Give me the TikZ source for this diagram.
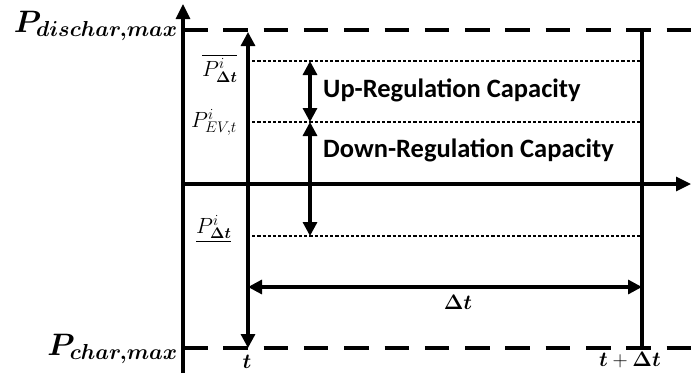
\RequirePackage{fix-cm}
\documentclass[tikz,border=0pt]{standalone}
\usepackage{amsmath}
\usepackage{bm}
\usepackage{fontspec}
\newfontfamily\capfont{Carlito}
\usetikzlibrary{arrows.meta}
\tikzset{
  axisline/.style={line width=3.2pt},
  bigtip/.style={-{Triangle[length=15pt,width=14pt]}},
  bothtips/.style={{Triangle[length=14pt,width=14pt]}-{Triangle[length=14pt,width=14pt]}},
  limitline/.style={line width=3.2pt, dash pattern=on 24.5pt off 15.8pt},
  levelline/.style={line width=2.2pt, dash pattern=on 3.2pt off 2pt},
  caplabel/.style={font=\capfont\bfseries\fontsize{26.5}{28}\selectfont, inner sep=0pt},
  biglabel/.style={font=\fontsize{31}{33}\selectfont, inner sep=0pt},
  smalllabel/.style={font=\fontsize{21}{22}\selectfont, inner sep=0pt},
  plabel/.style={font=\fontsize{22}{23}\selectfont, inner sep=0pt}
}
\begin{document}
\begin{tikzpicture}[x=1pt,y=-1pt]
\useasboundingbox (0,0) rectangle (691,373);
% coordinates
\coordinate (axbot) at (183,373);
\coordinate (axtop) at (183,4);
\coordinate (O) at (183,184);
\coordinate (axright) at (691,184);
\coordinate (topL) at (183,30);
\coordinate (topR) at (691,30);
\coordinate (botL) at (183,348);
\coordinate (botR) at (691,348);
\coordinate (tTop) at (248,32);
\coordinate (tBot) at (248,348);
\coordinate (rTop) at (642,30);
\coordinate (rBot) at (642,348);
\coordinate (upL) at (247,61);
\coordinate (upR) at (642,61);
\coordinate (evL) at (247,122);
\coordinate (evR) at (642,122);
\coordinate (loL) at (247,236);
\coordinate (loR) at (642,236);
\coordinate (mUp) at (310,61);
\coordinate (mEv) at (310,122);
\coordinate (mLo) at (310,236);
\coordinate (dtL) at (248,287);
\coordinate (dtR) at (642,287);
% limit lines
\draw[limitline] (topL) -- (topR);
\draw[limitline] (botL) -- (botR);
% level lines
\draw[levelline] (upL) -- (upR);
\draw[levelline] (evL) -- (evR);
\draw[levelline] (loL) -- (loR);
% axes
\draw[axisline, bigtip] (axbot) -- (axtop);
\draw[axisline, bigtip] (O) -- (axright);
\draw[axisline, bothtips] (tTop) -- (tBot);
\draw[axisline] (rTop) -- (rBot);
% capacity arrows
\draw[axisline, bothtips] (mUp) -- (mEv);
\draw[axisline, bothtips] (mEv) -- (mLo);
\draw[axisline, bothtips] (dtL) -- (dtR);
% labels
\node[biglabel, anchor=base east] (pdis) at (178,32) {$\bm{P_{dischar,max}}$};
\node[biglabel, anchor=base east] (pch) at (178,355) {$\bm{P_{char,max}}$};
\node[plabel, anchor=base west] (pup) at (202,76) {$\overline{P^{i}_{\bm{\Delta t}}}$};
\node[plabel, anchor=base west] (pev) at (191,127) {$P^{i}_{EV,t}$};
\node[plabel, anchor=base west] (plo) at (196,233) {$\underline{P^{i}_{\bm{\Delta t}}}$};
\node[caplabel, anchor=base west] (uptxt) at (323,97) {Up-Regulation Capacity};
\node[caplabel, anchor=base west] (dntxt) at (323,157) {Down-Regulation Capacity};
\node[smalllabel] (dtlab) at (458,302) {$\bm{\Delta t}$};
\node[smalllabel] (tlab) at (247,362) {$\bm{t}$};
\node[smalllabel] (tdlab) at (630,360) {$\bm{t}+\bm{\Delta t}$};
\end{tikzpicture}
\end{document}
